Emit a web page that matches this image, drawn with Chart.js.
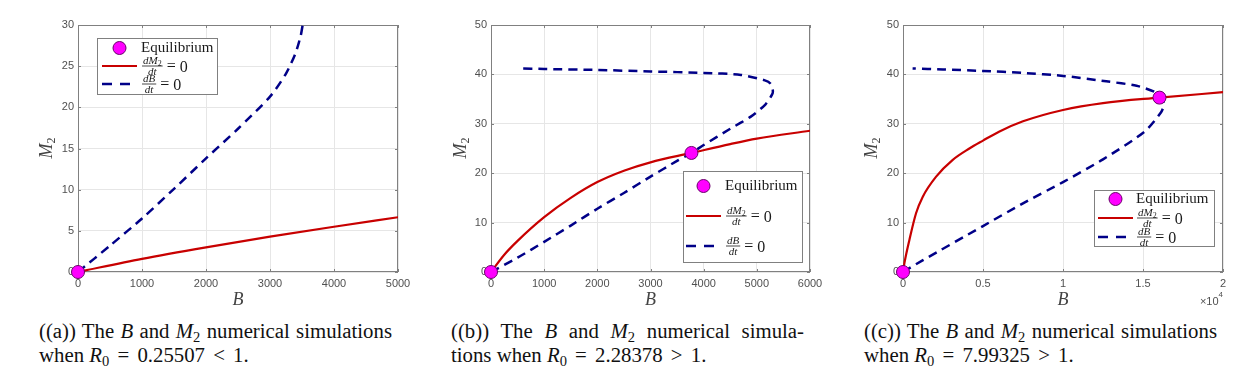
<!DOCTYPE html>
<html>
<head>
<meta charset="utf-8">
<script src="https://cdn.jsdelivr.net/npm/chart.js@4/dist/chart.umd.min.js"></script>
<style>
body { margin: 0; width: 1256px; height: 388px; background: #fff; position: relative; overflow: hidden; }
canvas { position: absolute; top: 0; }
.cap { position: absolute; top: 319px; width: 353px; font-family: "Liberation Serif", serif; font-size: 20.8px; line-height: 24.4px; color: #111; }
.cap div { white-space: nowrap; }
.cap .j { text-align: justify; text-align-last: justify; }
.cap sub { font-size: 70%; vertical-align: -0.25em; line-height: 0; font-style: normal; }
.cap .op { margin: 0 3px; }
</style>
</head>
<body>
<canvas id="chartA" width="420" height="315" style="left:0px"></canvas>
<canvas id="chartB" width="420" height="315" style="left:418px"></canvas>
<canvas id="chartC" width="420" height="315" style="left:836px"></canvas>

<div class="cap" style="left:39px">
  <div class="j">((a)) The <i>B</i> and <i>M</i><sub>2</sub> numerical simulations</div>
  <div>when <i>R</i><sub>0</sub> <span class="op">=</span> 0.25507 <span class="op">&lt;</span> 1.</div>
</div>
<div class="cap" style="left:451px">
  <div class="j">((b)) The <i>B</i> and <i>M</i><sub>2</sub> numerical simula-</div>
  <div>tions when <i>R</i><sub>0</sub> <span class="op">=</span> 2.28378 <span class="op">&gt;</span> 1.</div>
</div>
<div class="cap" style="left:864px">
  <div class="j">((c)) The <i>B</i> and <i>M</i><sub>2</sub> numerical simulations</div>
  <div>when <i>R</i><sub>0</sub> <span class="op">=</span> 7.99325 <span class="op">&gt;</span> 1.</div>
</div>

<script>
// (a) R0 = 0.25507 < 1
const aRedB = [0, 1000, 2000, 3000, 4000, 5000];
const aRedM = [0, 1.6, 3.0, 4.3, 5.5, 6.65];
const aBlueB = [0, 500, 1000, 1500, 2000, 2500, 3000, 3250, 3400, 3480, 3510];
const aBlueM = [0, 3.2, 6.5, 10.1, 13.8, 17.4, 21.3, 24.1, 26.6, 28.7, 30];
const aEqB = [0];
const aEqM = [0];
const aXAxis = [0, 5000, 1000];
const aYAxis = [0, 30, 5];

// (b) R0 = 2.28378 > 1
const bRedB = [0, 250, 500, 1000, 1500, 2000, 2500, 3000, 3770, 4500, 5000, 6000];
const bRedM = [0, 3.5, 6.3, 11.1, 15.0, 18.2, 20.5, 22.2, 24.1, 25.9, 27.0, 28.6];
const bBlueB = [0, 500, 1000, 1500, 2000, 2500, 3000, 3500, 3770, 4000, 4500, 4880, 5160, 5290, 5300, 5260, 5150, 4700, 4000, 3000, 2000, 1000, 530];
const bBlueM = [0, 2.9, 6.1, 9.4, 12.8, 16.0, 19.3, 22.5, 24.1, 25.7, 29.0, 31.4, 33.9, 36.0, 36.8, 38.1, 38.8, 39.9, 40.3, 40.6, 40.9, 41.1, 41.2];
const bEqB = [0, 3770];
const bEqM = [0, 24.1];
const bXAxis = [0, 6000, 1000];
const bYAxis = [0, 50, 10];

// (c) R0 = 7.99325 > 1
const cRedB = [0, 100, 400, 815, 1230, 2070, 3110, 4150, 5000, 6000, 7500, 10000, 12500, 16030, 20000];
const cRedM = [0, 2.0, 6.5, 11.9, 15.2, 19.3, 22.7, 25.0, 26.6, 28.4, 30.5, 32.8, 34.2, 35.3, 36.4];
const cBlueB = [0, 1250, 5000, 7500, 10000, 12500, 15090, 16140, 16300, 16100, 15700, 14600, 12700, 10000, 7500, 5000, 2500, 600];
const cBlueM = [0, 2.4, 9.3, 13.9, 18.2, 22.8, 28.4, 32.4, 34.0, 35.5, 36.5, 37.7, 38.6, 39.7, 40.3, 40.7, 41.0, 41.2];
const cEqB = [0, 16030];
const cEqM = [0, 35.3];
const cXAxis = [0, 20000, 5000];
const cYAxis = [0, 50, 10];

const RED = '#c80000';
const NAVY = '#000088';
const MAGENTA = '#ff00ff';
const BOXGRAY = '#808080';

function pts(xs, ys) {
    return xs.map((x, i) => ({ x: x, y: ys[i] }));
}

// fraction like dM2/dt = 0, drawn at row centre cy
function drawFrac(ctx, x, cy, num, sub, den) {
    const serif = '"Liberation Serif", serif';
    ctx.font = 'italic 11px ' + serif;
    const nw = ctx.measureText(num).width;
    ctx.font = '8px ' + serif;
    const sw = sub ? ctx.measureText(sub).width : 0;
    ctx.font = 'italic 11px ' + serif;
    const dw = ctx.measureText(den).width;
    const w = Math.max(nw + sw, dw) + 2;
    const barY = cy;
    ctx.textAlign = 'left';
    ctx.textBaseline = 'alphabetic';
    const nx = x + (w - nw - sw) / 2;
    ctx.fillText(num, nx, barY - 2);
    if (sub) {
        ctx.font = '8px ' + serif;
        ctx.fillText(sub, nx + nw, barY - 0.5);
    }
    ctx.font = 'italic 11px ' + serif;
    ctx.fillText(den, x + (w - dw) / 2, barY + 9);
    ctx.fillRect(x, barY - 0.4, w, 0.8);
    ctx.font = '16px ' + serif;
    ctx.fillText('=', x + w + 4, barY + 4.5);
    const ew = ctx.measureText('=').width;
    ctx.fillText('0', x + w + 4 + ew + 4, barY + 5.5);
}

const decor = {
    id: 'decor',
    beforeDatasetsDraw(chart) {
        const a = chart.chartArea;
        const ctx = chart.ctx;
        ctx.save();
        ctx.strokeStyle = BOXGRAY;
        ctx.lineWidth = 1;
        ctx.strokeRect(a.left + 0.5, a.top + 0.5, a.right - a.left - 1, a.bottom - a.top - 1);
        // inward ticks on all four sides
        ctx.beginPath();
        chart.scales.x.ticks.forEach(t => {
            const px = Math.round(chart.scales.x.getPixelForValue(t.value)) + 0.5;
            ctx.moveTo(px, a.bottom); ctx.lineTo(px, a.bottom - 3);
            ctx.moveTo(px, a.top); ctx.lineTo(px, a.top + 3);
        });
        chart.scales.y.ticks.forEach(t => {
            const py = Math.round(chart.scales.y.getPixelForValue(t.value)) + 0.5;
            ctx.moveTo(a.left, py); ctx.lineTo(a.left + 3, py);
            ctx.moveTo(a.right, py); ctx.lineTo(a.right - 3, py);
        });
        ctx.stroke();
        ctx.restore();
    },
    afterDraw(chart, args, o) {
        const a = chart.chartArea;
        const ctx = chart.ctx;
        const serif = '"Liberation Serif", serif';
        ctx.save();
        // axis titles
        ctx.fillStyle = '#444';
        ctx.textBaseline = 'middle';
        ctx.textAlign = 'center';
        ctx.font = 'italic 18px ' + serif;
        ctx.fillText('B', (a.left + a.right) / 2, 300);
        ctx.save();
        ctx.translate(o.yTitleX, 148);
        ctx.rotate(-Math.PI / 2);
        ctx.textAlign = 'left';
        ctx.textBaseline = 'alphabetic';
        ctx.font = 'italic 18px ' + serif;
        const mw = ctx.measureText('M').width;
        ctx.font = '12px ' + serif;
        const tw = mw + ctx.measureText('2').width;
        ctx.font = 'italic 18px ' + serif;
        ctx.fillText('M', -tw / 2, 6);
        ctx.font = '12px ' + serif;
        ctx.fillText('2', -tw / 2 + mw, 9);
        ctx.restore();

        if (o.exponent) {
            ctx.font = '11px "Liberation Sans", sans-serif';
            ctx.fillStyle = '#505050';
            ctx.textAlign = 'left';
            ctx.textBaseline = 'alphabetic';
            const w1 = ctx.measureText('\u00d710').width;
            ctx.font = '8px "Liberation Sans", sans-serif';
            const w2 = ctx.measureText('4').width;
            ctx.font = '11px "Liberation Sans", sans-serif';
            ctx.fillText('\u00d710', a.right - w1 - w2, 305);
            ctx.font = '8px "Liberation Sans", sans-serif';
            ctx.fillText('4', a.right - w2, 297);
        }

        // legend
        const L = o.legend;
        ctx.fillStyle = '#fff';
        ctx.fillRect(L.x, L.y, L.w, L.h);
        ctx.strokeStyle = BOXGRAY;
        ctx.lineWidth = 1;
        ctx.strokeRect(L.x + 0.5, L.y + 0.5, L.w - 1, L.h - 1);
        const mid = (L.lineX0 + L.lineX1) / 2;
        // equilibrium marker
        ctx.beginPath();
        ctx.arc(mid, L.rows[0], 6.5, 0, Math.PI * 2);
        ctx.fillStyle = MAGENTA;
        ctx.fill();
        ctx.strokeStyle = '#6b006b';
        ctx.stroke();
        ctx.fillStyle = '#1a1a1a';
        ctx.font = '15px ' + serif;
        ctx.textAlign = 'left';
        ctx.textBaseline = 'middle';
        ctx.fillText('Equilibrium', L.textX, L.rows[0]);
        // red line
        ctx.strokeStyle = RED;
        ctx.lineWidth = 2.2;
        ctx.beginPath();
        ctx.moveTo(L.lineX0, L.rows[1]); ctx.lineTo(L.lineX1, L.rows[1]);
        ctx.stroke();
        // blue dashed line
        ctx.strokeStyle = NAVY;
        ctx.lineWidth = 2.5;
        ctx.setLineDash([10, 8]);
        ctx.beginPath();
        ctx.moveTo(L.lineX0, L.rows[2]); ctx.lineTo(L.lineX1, L.rows[2]);
        ctx.stroke();
        ctx.setLineDash([]);
        ctx.fillStyle = '#1a1a1a';
        drawFrac(ctx, L.textX + 1, L.rows[1], 'dM', '2', 'dt');
        drawFrac(ctx, L.textX + 1, L.rows[2], 'dB', '', 'dt');
        ctx.restore();
    }
};

function makePanel(id, redB, redM, blueB, blueM, eqB, eqM, xAxis, yAxis, box, extra) {
    const tickFont = { family: '"Liberation Sans", sans-serif', size: 11 };
    return new Chart(document.getElementById(id).getContext('2d'), {
        type: 'scatter',
        data: {
            datasets: [
                {
                    label: 'Equilibrium',
                    data: pts(eqB, eqM),
                    pointRadius: 6.5,
                    pointBackgroundColor: MAGENTA,
                    pointBorderColor: '#6b006b',
                    pointBorderWidth: 1,
                    clip: false
                },
                {
                    label: 'dM2/dt = 0',
                    data: pts(redB, redM),
                    showLine: true,
                    borderColor: RED,
                    borderWidth: 2.2,
                    pointRadius: 0,
                    cubicInterpolationMode: 'monotone'
                },
                {
                    label: 'dB/dt = 0',
                    data: pts(blueB, blueM),
                    showLine: true,
                    borderColor: NAVY,
                    borderWidth: 2.5,
                    borderDash: [9, 6],
                    pointRadius: 0,
                    tension: 0.25
                }
            ]
        },
        options: {
            responsive: false,
            animation: false,
            devicePixelRatio: 1,
            layout: { padding: { left: 0, top: 25, right: box.padRight, bottom: 0 } },
            plugins: {
                legend: { display: false },
                tooltip: { enabled: false },
                decor: extra
            },
            scales: {
                x: {
                    type: 'linear',
                    min: xAxis[0], max: xAxis[1],
                    ticks: {
                        stepSize: xAxis[2],
                        font: tickFont, color: '#505050', padding: 5,
                        maxRotation: 0,
                        callback: extra.exponent ? (v => String(v / 10000)) : (v => String(v))
                    },
                    grid: { color: '#e6e6e6', drawTicks: false },
                    border: { display: false },
                    afterFit: s => { s.height = 315 - 272; }
                },
                y: {
                    type: 'linear',
                    min: yAxis[0], max: yAxis[1],
                    ticks: { stepSize: yAxis[2], font: tickFont, color: '#505050', padding: 4 },
                    grid: { color: '#e6e6e6', drawTicks: false },
                    border: { display: false },
                    afterFit: s => { s.width = box.left; }
                }
            }
        },
        plugins: [decor]
    });
}

makePanel('chartA', aRedB, aRedM, aBlueB, aBlueM, aEqB, aEqM, aXAxis, aYAxis,
    { left: 78, padRight: 22 },
    { yTitleX: 46, exponent: false,
      legend: { x: 97, y: 38, w: 121, h: 57, lineX0: 102, lineX1: 137, textX: 141, rows: [48, 66, 84] } });

makePanel('chartB', bRedB, bRedM, bBlueB, bBlueM, bEqB, bEqM, bXAxis, bYAxis,
    { left: 73, padRight: 28 },
    { yTitleX: 42, exponent: false,
      legend: { x: 265, y: 171, w: 120, h: 92, lineX0: 268, lineX1: 303, textX: 307, rows: [186, 216, 246] } });

makePanel('chartC', cRedB, cRedM, cBlueB, cBlueM, cEqB, cEqM, cXAxis, cYAxis,
    { left: 67, padRight: 33 },
    { yTitleX: 35, exponent: true,
      legend: { x: 258, y: 190, w: 121, h: 57, lineX0: 262, lineX1: 297, textX: 300, rows: [199, 218, 237] } });
</script>
</body>
</html>
